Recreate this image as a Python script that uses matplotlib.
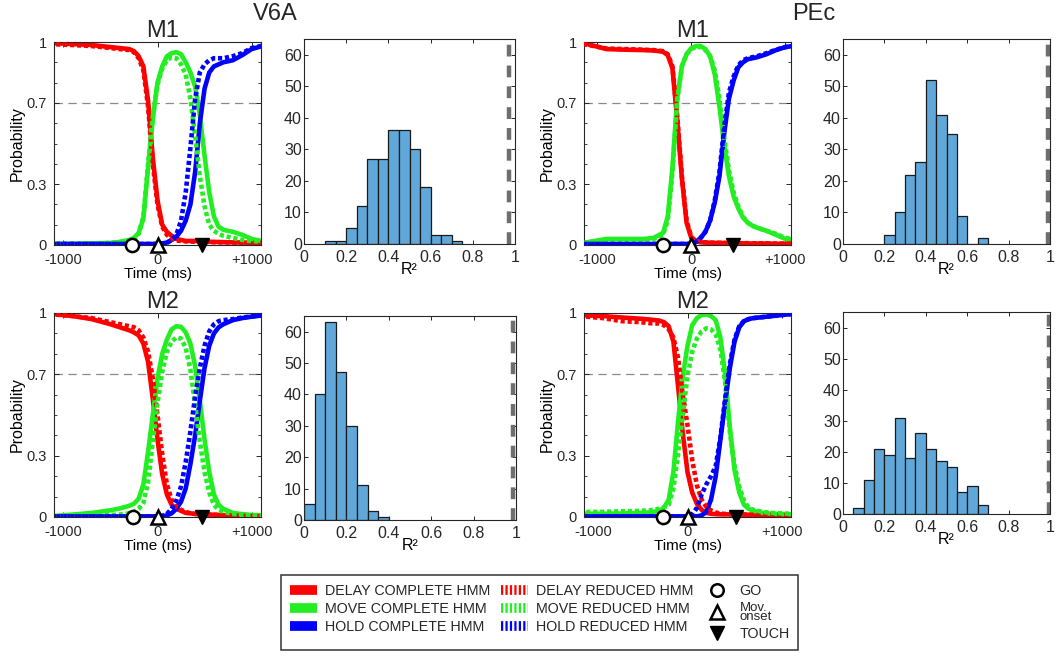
import numpy as np
import matplotlib
matplotlib.use("Agg")
import matplotlib.pyplot as plt
from matplotlib.lines import Line2D

plt.rcParams["font.family"] = ["Liberation Sans", "DejaVu Sans"]
plt.rcParams["lines.scale_dashes"] = False
plt.rcParams["axes.edgecolor"] = "#262626"
plt.rcParams["text.color"] = "#262626"
plt.rcParams["xtick.color"] = "#262626"
plt.rcParams["ytick.color"] = "#262626"

# time grid (ms from movement onset) shared by every state-probability curve
t_ms = [-1150, -900, -700, -500, -400, -300, -250, -200, -150, -100, -50, 0, 50, 100, 150,
        200, 250, 300, 350, 400, 450, 500, 550, 600, 650, 700, 800, 900, 1000, 1150]

# V6A, M1
v6a_m1_delay = [0.995, 0.99, 0.985, 0.975, 0.97, 0.965, 0.955, 0.93, 0.88, 0.71, 0.43, 0.22, 0.10, 0.065, 0.045,
                0.03, 0.025, 0.02, 0.02, 0.02, 0.018, 0.017, 0.016, 0.015, 0.015, 0.014, 0.013, 0.012, 0.011, 0.01]
v6a_m1_delay_red = [0.99, 0.985, 0.98, 0.97, 0.965, 0.96, 0.95, 0.92, 0.86, 0.68, 0.40, 0.20, 0.09, 0.05, 0.03,
                    0.022, 0.02, 0.018, 0.017, 0.016, 0.015, 0.015, 0.014, 0.014, 0.013, 0.013, 0.012, 0.011, 0.01, 0.01]
v6a_m1_move = [0.005, 0.005, 0.008, 0.01, 0.015, 0.025, 0.035, 0.06, 0.13, 0.38, 0.62, 0.80, 0.88, 0.93, 0.945,
               0.95, 0.94, 0.90, 0.85, 0.78, 0.64, 0.44, 0.26, 0.14, 0.09, 0.075, 0.065, 0.05, 0.03, 0.015]
v6a_m1_move_red = [0.005, 0.005, 0.008, 0.01, 0.015, 0.02, 0.03, 0.055, 0.14, 0.40, 0.63, 0.79, 0.87, 0.91, 0.925,
                   0.92, 0.89, 0.84, 0.72, 0.54, 0.34, 0.19, 0.10, 0.07, 0.055, 0.045, 0.035, 0.025, 0.02, 0.015]
v6a_m1_hold = [0.005, 0.005, 0.005, 0.005, 0.005, 0.005, 0.005, 0.005, 0.005, 0.005, 0.005, 0.005, 0.008, 0.012, 0.025,
               0.04, 0.07, 0.12, 0.20, 0.36, 0.60, 0.77, 0.85, 0.88, 0.89, 0.90, 0.91, 0.935, 0.965, 0.985]
v6a_m1_hold_red = [0.005, 0.005, 0.005, 0.005, 0.005, 0.005, 0.005, 0.005, 0.005, 0.005, 0.005, 0.005, 0.005, 0.01, 0.025,
                   0.05, 0.12, 0.26, 0.48, 0.72, 0.85, 0.89, 0.91, 0.92, 0.92, 0.92, 0.93, 0.945, 0.97, 0.985]

# V6A, M2
v6a_m2_delay = [0.997, 0.985, 0.97, 0.945, 0.93, 0.915, 0.905, 0.89, 0.85, 0.76, 0.58, 0.38, 0.21, 0.11, 0.06,
                0.04, 0.03, 0.02, 0.018, 0.015, 0.014, 0.013, 0.012, 0.011, 0.01, 0.009, 0.008, 0.006, 0.005, 0.003]
v6a_m2_delay_red = [0.995, 0.985, 0.975, 0.955, 0.945, 0.935, 0.93, 0.915, 0.88, 0.81, 0.68, 0.50, 0.31, 0.16, 0.085,
                    0.05, 0.035, 0.025, 0.018, 0.015, 0.014, 0.013, 0.012, 0.011, 0.01, 0.009, 0.008, 0.006, 0.005, 0.003]
v6a_m2_move = [0.003, 0.012, 0.02, 0.033, 0.042, 0.055, 0.065, 0.09, 0.16, 0.32, 0.50, 0.68, 0.80, 0.87, 0.92,
               0.935, 0.932, 0.905, 0.85, 0.74, 0.57, 0.38, 0.22, 0.11, 0.06, 0.04, 0.02, 0.014, 0.01, 0.008]
v6a_m2_move_red = [0.003, 0.005, 0.008, 0.01, 0.012, 0.018, 0.025, 0.04, 0.07, 0.17, 0.37, 0.56, 0.71, 0.81, 0.86,
                   0.88, 0.875, 0.83, 0.72, 0.55, 0.37, 0.22, 0.12, 0.06, 0.035, 0.025, 0.015, 0.01, 0.008, 0.006]
v6a_m2_hold = [0.003, 0.003, 0.003, 0.003, 0.003, 0.003, 0.003, 0.003, 0.003, 0.003, 0.003, 0.003, 0.003, 0.008, 0.018,
               0.04, 0.075, 0.14, 0.26, 0.40, 0.57, 0.73, 0.84, 0.90, 0.93, 0.945, 0.965, 0.975, 0.982, 0.99]
v6a_m2_hold_red = [0.003, 0.003, 0.003, 0.003, 0.003, 0.003, 0.003, 0.003, 0.003, 0.003, 0.003, 0.003, 0.006, 0.015, 0.04,
                   0.08, 0.15, 0.27, 0.42, 0.59, 0.73, 0.84, 0.91, 0.945, 0.96, 0.965, 0.97, 0.978, 0.983, 0.99]

# PEc, M1
pec_m1_delay = [0.995, 0.965, 0.962, 0.96, 0.958, 0.952, 0.935, 0.87, 0.62, 0.33, 0.11, 0.035, 0.018, 0.013, 0.012,
                0.011, 0.01, 0.01, 0.01, 0.009, 0.009, 0.008, 0.008, 0.008, 0.007, 0.007, 0.007, 0.006, 0.006, 0.006]
pec_m1_delay_red = [0.99, 0.968, 0.965, 0.962, 0.96, 0.955, 0.94, 0.88, 0.64, 0.34, 0.12, 0.04, 0.02, 0.015, 0.013,
                    0.012, 0.011, 0.011, 0.01, 0.01, 0.01, 0.009, 0.009, 0.009, 0.008, 0.008, 0.008, 0.007, 0.007, 0.007]
pec_m1_move = [0.01, 0.03, 0.03, 0.03, 0.035, 0.06, 0.14, 0.38, 0.72, 0.88, 0.94, 0.97, 0.98, 0.98, 0.965,
               0.93, 0.84, 0.68, 0.49, 0.34, 0.24, 0.18, 0.135, 0.11, 0.095, 0.085, 0.07, 0.05, 0.03, 0.025]
pec_m1_move_red = [0.01, 0.025, 0.025, 0.025, 0.03, 0.05, 0.12, 0.36, 0.71, 0.88, 0.94, 0.965, 0.975, 0.975, 0.96,
                   0.93, 0.86, 0.72, 0.53, 0.37, 0.26, 0.19, 0.14, 0.11, 0.095, 0.085, 0.07, 0.055, 0.035, 0.025]
pec_m1_hold = [0.005, 0.005, 0.005, 0.005, 0.005, 0.005, 0.005, 0.005, 0.005, 0.005, 0.005, 0.006, 0.015, 0.035, 0.065,
               0.12, 0.21, 0.34, 0.55, 0.72, 0.81, 0.875, 0.90, 0.915, 0.92, 0.925, 0.94, 0.96, 0.975, 0.985]
pec_m1_hold_red = [0.005, 0.005, 0.005, 0.005, 0.005, 0.005, 0.005, 0.005, 0.005, 0.005, 0.005, 0.006, 0.015, 0.035, 0.065,
                   0.12, 0.22, 0.36, 0.58, 0.75, 0.83, 0.885, 0.91, 0.92, 0.925, 0.93, 0.945, 0.962, 0.975, 0.985]

# PEc, M2
pec_m2_delay = [0.99, 0.985, 0.978, 0.972, 0.968, 0.963, 0.955, 0.935, 0.86, 0.64, 0.41, 0.22, 0.12, 0.065, 0.035,
                0.02, 0.016, 0.014, 0.013, 0.013, 0.013, 0.012, 0.012, 0.012, 0.011, 0.011, 0.01, 0.01, 0.009, 0.008]
pec_m2_delay_red = [0.985, 0.975, 0.96, 0.955, 0.95, 0.948, 0.94, 0.92, 0.88, 0.78, 0.60, 0.45, 0.28, 0.155, 0.085,
                    0.05, 0.032, 0.022, 0.017, 0.015, 0.014, 0.013, 0.012, 0.012, 0.011, 0.011, 0.01, 0.01, 0.009, 0.008]
pec_m2_move = [0.016, 0.016, 0.017, 0.02, 0.022, 0.03, 0.045, 0.085, 0.22, 0.47, 0.69, 0.84, 0.94, 0.975, 0.99,
               0.993, 0.985, 0.965, 0.88, 0.70, 0.44, 0.23, 0.12, 0.06, 0.04, 0.03, 0.02, 0.016, 0.014, 0.013]
pec_m2_move_red = [0.025, 0.025, 0.028, 0.03, 0.033, 0.04, 0.048, 0.06, 0.14, 0.31, 0.50, 0.69, 0.81, 0.875, 0.91,
                   0.925, 0.92, 0.895, 0.82, 0.66, 0.42, 0.25, 0.15, 0.08, 0.045, 0.035, 0.025, 0.02, 0.018, 0.015]
pec_m2_hold = [0.003, 0.003, 0.003, 0.003, 0.003, 0.003, 0.003, 0.003, 0.003, 0.003, 0.003, 0.003, 0.003, 0.003, 0.008,
               0.025, 0.085, 0.20, 0.38, 0.56, 0.73, 0.86, 0.93, 0.96, 0.97, 0.975, 0.98, 0.985, 0.99, 0.997]
pec_m2_hold_red = [0.003, 0.003, 0.003, 0.003, 0.003, 0.003, 0.003, 0.003, 0.003, 0.003, 0.003, 0.003, 0.012, 0.045, 0.11,
                   0.16, 0.20, 0.25, 0.39, 0.58, 0.75, 0.87, 0.935, 0.96, 0.97, 0.975, 0.98, 0.985, 0.99, 0.997]

# behavioural events (ms): order V6A-M1, PEc-M1, V6A-M2, PEc-M2
go_ms = [-270, -300, -265, -260]
onset_ms = [0, 0, 0, 0]
touch_ms = [475, 440, 475, 520]
time_xlims = [(-1100, 1100), (-1140, 1060), (-1100, 1100), (-1100, 1100)]

# R^2 histograms (bin left edges, counts)
v6a_m1_r2_bins = [0.10, 0.15, 0.20, 0.25, 0.30, 0.35, 0.40, 0.45, 0.50, 0.55, 0.60, 0.65, 0.70]
v6a_m1_r2_counts = [1, 1, 5, 12, 27, 27, 36, 36, 30, 18, 3, 3, 1]
pec_m1_r2_bins = [0.20, 0.25, 0.30, 0.35, 0.40, 0.45, 0.50, 0.55, 0.60, 0.65]
pec_m1_r2_counts = [3, 10, 22, 26, 52, 41, 35, 9, 0, 2]
v6a_m2_r2_bins = [0.00, 0.05, 0.10, 0.15, 0.20, 0.25, 0.30, 0.35]
v6a_m2_r2_counts = [5, 40, 63, 47, 30, 11, 3, 1]
pec_m2_r2_bins = [0.05, 0.10, 0.15, 0.20, 0.25, 0.30, 0.35, 0.40, 0.45, 0.50, 0.55, 0.60, 0.65]
pec_m2_r2_counts = [2, 11, 21, 19, 31, 18, 26, 21, 17, 15, 7, 9, 3]
full_model_r2 = [0.97, 0.99, 0.985, 0.995]

RED, GREEN, BLUE = "#ff0000", "#22ee22", "#0000ff"
HIST_FACE = "#60a8da"
DASH = (0, (3.0, 2.0))
TICK_FS = 10.5
LABEL_FS = 11

fig = plt.figure(figsize=(10.56, 6.57), dpi=100)
W, H = 1056, 657


def rect(x0, y0, x1, y1):
    # pixel box (top-left origin) -> figure fraction
    return [x0 / W, 1 - y1 / H, (x1 - x0) / W, (y1 - y0) / H]


prob_rects = [rect(54, 42, 261, 245), rect(584, 42, 791, 245),
              rect(54, 313, 261, 517), rect(584, 313, 791, 517)]
hist_rects = [rect(304, 39, 515, 244), rect(843, 39, 1050, 244),
              rect(304, 316, 516, 520), rect(843, 312, 1050, 514)]

curves = [
    (v6a_m1_delay, v6a_m1_move, v6a_m1_hold, v6a_m1_delay_red, v6a_m1_move_red, v6a_m1_hold_red),
    (pec_m1_delay, pec_m1_move, pec_m1_hold, pec_m1_delay_red, pec_m1_move_red, pec_m1_hold_red),
    (v6a_m2_delay, v6a_m2_move, v6a_m2_hold, v6a_m2_delay_red, v6a_m2_move_red, v6a_m2_hold_red),
    (pec_m2_delay, pec_m2_move, pec_m2_hold, pec_m2_delay_red, pec_m2_move_red, pec_m2_hold_red),
]
hists = [(v6a_m1_r2_bins, v6a_m1_r2_counts), (pec_m1_r2_bins, pec_m1_r2_counts),
         (v6a_m2_r2_bins, v6a_m2_r2_counts), (pec_m2_r2_bins, pec_m2_r2_counts)]
titles = ["M1", "M1", "M2", "M2"]

for i in range(4):
    ax = fig.add_axes(prob_rects[i])
    d, m, h, dr, mr, hr = curves[i]
    ax.axhline(0.7, color="#8a8a8a", lw=0.9, dashes=(6, 4), zorder=1)
    for y, c in [(d, RED), (m, GREEN), (h, BLUE)]:
        ax.plot(t_ms, y, color=c, lw=3.3, solid_joinstyle="round", zorder=2)
    for y, c in [(dr, RED), (mr, GREEN), (hr, BLUE)]:
        ax.plot(t_ms, y, color=c, lw=3.3, linestyle=DASH, zorder=3)
    ax.plot([go_ms[i]], [0], ls="none", marker="o", ms=9.5, mfc="white", mec="black",
            mew=1.8, clip_on=False, zorder=10)
    ax.plot([onset_ms[i]], [0], ls="none", marker="^", ms=10, mfc="white", mec="black",
            mew=1.8, clip_on=False, zorder=10)
    ax.plot([touch_ms[i]], [0], ls="none", marker="v", ms=10, mfc="black", mec="black",
            clip_on=False, zorder=10)
    ax.set_xlim(time_xlims[i])
    ax.set_ylim(0, 1)
    ax.set_xticks([-1000, 0, 1000])
    ax.set_xticklabels(["-1000", "0", "+1000"])
    ax.set_yticks([0, 0.3, 0.7, 1])
    ax.set_yticklabels(["0", "0.3", "0.7", "1"])
    ax.set_yticks([0.1, 0.2, 0.4, 0.5, 0.6, 0.8, 0.9], minor=True)
    ax.tick_params(which="both", direction="in", top=True, right=True, labelsize=TICK_FS)
    ax.tick_params(which="major", length=3.5, width=0.7)
    ax.tick_params(which="minor", length=2, width=0.6)
    ax.tick_params(axis="y", pad=5)
    ax.tick_params(axis="x", pad=5.5)
    ax.set_xlabel("Time (ms)", fontsize=LABEL_FS, labelpad=0)
    ax.set_ylabel("Probability", fontsize=11.5)
    ax.yaxis.set_label_coords(-0.14, 0.5)
    ax.set_title(titles[i], fontsize=17, pad=2, x=0.525)
    for s in ax.spines.values():
        s.set_linewidth(0.8)

    hx = fig.add_axes(hist_rects[i])
    bins, counts = hists[i]
    hx.bar(bins, counts, width=0.05, align="edge", color=HIST_FACE, edgecolor="#1a1a1a", lw=0.9)
    hx.axvline(full_model_r2[i], color="#6e6e6e", lw=3.2, dashes=(8.5, 6.5))
    hx.set_xlim(0, 1)
    hx.set_ylim(0, 65)
    hx.set_xticks([0, 0.2, 0.4, 0.6, 0.8, 1])
    hx.set_xticklabels(["0", "0.2", "0.4", "0.6", "0.8", "1"])
    hx.set_yticks([0, 10, 20, 30, 40, 50, 60])
    hx.tick_params(direction="in", top=True, right=True, labelsize=11.5, length=3, width=0.7)
    hx.tick_params(axis="y", pad=1.5)
    hx.tick_params(axis="x", pad=4)
    hx.set_xlabel("R²", fontsize=11.5, labelpad=-1.5)
    for s in hx.spines.values():
        s.set_linewidth(0.8)

fig.text(275 / W, 1 - 14 / H, "V6A", fontsize=17, ha="center", va="center")
fig.text(814 / W, 1 - 14 / H, "PEc", fontsize=17, ha="center", va="center")

handles = [
    Line2D([], [], color=RED, lw=7, solid_capstyle="butt"),
    Line2D([], [], color=GREEN, lw=7, solid_capstyle="butt"),
    Line2D([], [], color=BLUE, lw=7, solid_capstyle="butt"),
    Line2D([], [], color=RED, lw=7, linestyle=(0, (1.6, 1.6)), dash_capstyle="butt"),
    Line2D([], [], color=GREEN, lw=7, linestyle=(0, (1.6, 1.6)), dash_capstyle="butt"),
    Line2D([], [], color=BLUE, lw=7, linestyle=(0, (1.6, 1.6)), dash_capstyle="butt"),
    Line2D([], [], ls="none", marker="o", ms=9, mfc="white", mec="black", mew=1.8),
    Line2D([], [], ls="none", marker="^", ms=10, mfc="white", mec="black", mew=1.8),
    Line2D([], [], ls="none", marker="v", ms=10, mfc="black", mec="black"),
]
labels = ["DELAY COMPLETE HMM", "MOVE COMPLETE HMM", "HOLD COMPLETE HMM",
          "DELAY REDUCED HMM", "MOVE REDUCED HMM", "HOLD REDUCED HMM",
          "GO", "Mov.\nonset", "TOUCH"]
leg = fig.legend(handles, labels, ncol=3, loc="upper left",
                 bbox_to_anchor=(281 / W, 1 - 575 / H), bbox_transform=fig.transFigure,
                 borderaxespad=0, fontsize=10.3, frameon=True, fancybox=False,
                 edgecolor="#333333", framealpha=1, handlelength=1.9, handletextpad=0.6,
                 columnspacing=0.7, labelspacing=0.3, borderpad=0.6)
leg.get_frame().set_linewidth(1.1)
leg.get_texts()[7].set_fontsize(9.5)
leg.get_texts()[7].set_linespacing(0.7)

fig.savefig("out.png", dpi=100)
